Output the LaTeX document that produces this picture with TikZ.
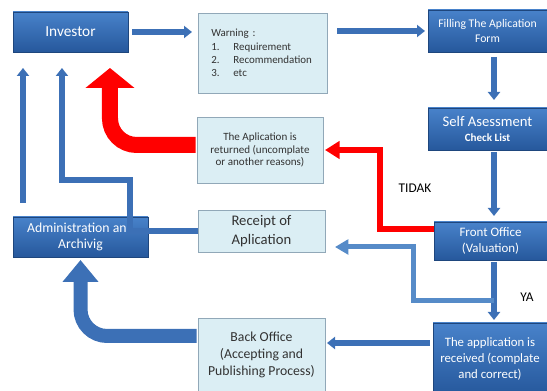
\documentclass[tikz,border=0pt]{standalone}
\usepackage{fontspec}
\setmainfont{Carlito}
\usetikzlibrary{arrows.meta}

\definecolor{boxtop}{RGB}{72,130,202}
\definecolor{boxbot}{RGB}{38,88,156}
\definecolor{paleblue}{RGB}{219,238,244}
\definecolor{paleedge}{RGB}{145,168,184}
\definecolor{arrowblue}{RGB}{60,112,182}
\definecolor{lightarrow}{RGB}{86,139,200}
\definecolor{alertred}{RGB}{255,0,0}
\definecolor{inktext}{RGB}{50,50,50}

\tikzset{
  darkbox/.style={rectangle, top color=boxtop, bottom color=boxbot, draw=boxbot!80!black, line width=0.4pt,
    text=white, align=center, inner sep=1pt, outer sep=0pt, font=\fontsize{8.8}{11}\selectfont},
  palebox/.style={rectangle, fill=paleblue, draw=paleedge, line width=0.5pt,
    text=inktext, align=center, inner sep=1pt, outer sep=0pt, font=\fontsize{8.3}{9.6}\selectfont},
  flow/.style={draw=arrowblue, line width=4pt, -{Triangle[width=9pt,length=6pt]}},
  flowlight/.style={draw=lightarrow, line width=3.75pt, -{Triangle[width=11pt,length=10pt]}},
  redflow/.style={draw=alertred, line width=4pt, -{Triangle[width=13pt,length=11pt]}},
  bigred/.style={draw=alertred, line width=12pt, rounded corners=20pt, -{Triangle[width=36pt,length=15pt]}},
  bigblue/.style={draw=arrowblue, line width=10.5pt, rounded corners=20pt, -{Triangle[width=26pt,length=16.5pt]}},
  answer/.style={text=black, inner sep=0.75pt, font=\fontsize{10}{12}\selectfont}
}

\begin{document}
\begin{tikzpicture}[x=0.75pt,y=0.75pt,yscale=-1,xscale=1]
        \useasboundingbox (0,0) rectangle (547,391);
        \clip (0,0) rectangle (547,391);

        %Shape: Rectangle [investor]
        \node [darkbox, minimum width=86.25pt, minimum height=30pt, font=\fontsize{11.5}{13}\selectfont] (inv) at (70.5,32) {Investor};
        %Shape: Rectangle [warning]
        \node [palebox, minimum width=96.75pt, minimum height=60pt, text width=76.75pt, inner xsep=10pt, align=left,
            font=\fontsize{8.2}{10}\selectfont] (warn) at (262.5,53)
            {Warning :\\ \makebox[16.5pt][l]{1.}Requirement\\ \makebox[16.5pt][l]{2.}Recommendation\\ \makebox[16.5pt][l]{3.}etc};
        %Shape: Rectangle [filling]
        \node [darkbox, minimum width=89.25pt, minimum height=31.5pt] (fill) at (487.5,31) {Filling The Aplication\\ Form};
        %Shape: Rectangle [self assessment]
        \node [darkbox, minimum width=89.25pt, minimum height=31.5pt] (self) at (487.5,129)
            {{\fontsize{11}{12}\selectfont Self Asessment}\\ {\bfseries\fontsize{8.3}{9.5}\selectfont Check List}};
        %Shape: Rectangle [returned]
        \node [palebox, minimum width=94.5pt, minimum height=49.5pt] (ret) at (260,150)
            {The Aplication is\\ returned (uncomplate\\ or another reasons)};
        %Shape: Rectangle [front office]
        \node [darkbox, minimum width=84.75pt, minimum height=28.5pt, font=\fontsize{9.7}{11.5}\selectfont] (front) at (490.5,241) {Front Office\\ (Valuation)};
        %Shape: Rectangle [administration]
        \node [darkbox, minimum width=101.25pt, minimum height=30pt, font=\fontsize{10.3}{12}\selectfont] (adm) at (80.5,237) {Administration and\\ Archivig};
        %Shape: Rectangle [receipt]
        \node [palebox, minimum width=95.25pt, minimum height=31.5pt, font=\fontsize{11}{14}\selectfont] (rec) at (261.5,231)
            {Receipt of\\ Aplication};
        %Shape: Rectangle [back office]
        \node [palebox, minimum width=95.25pt, minimum height=55.5pt, font=\fontsize{10.3}{12.75}\selectfont] (back) at (261.5,355)
            {Back Office\\ (Accepting and\\ Publishing Process)};
        %Shape: Rectangle [received]
        \node [darkbox, minimum width=85.5pt, minimum height=54pt, font=\fontsize{9.6}{12}\selectfont] (recv) at (490,359)
            {The application is\\ received (complate\\ and correct)};

        \coordinate (col) at (494,0);
        \coordinate (ya) at (494,301);
        \coordinate (bend) at (413,247);
        \coordinate (elbow) at (130,180);

        %Straight Lines
        \draw [flow, shorten <=3pt, shorten >=4.5pt] (inv.east) -- (inv.east -| warn.west);
        \draw [flow, shorten <=7.5pt, shorten >=2.25pt] (warn.east |- fill.west) -- (fill.west);
        \draw [flow, shorten <=3.75pt, shorten >=6pt] (col |- fill.south) -- (col |- self.north);
        \draw [flow, shorten <=1.5pt, shorten >=4.5pt] (col |- self.south) -- (col |- front.north);
        \draw [flow, shorten <=1.5pt, shorten >=2.25pt] (col |- front.south) -- (col |- recv.north);
        \draw [flow, shorten <=2.25pt, shorten >=1.5pt] (recv.west |- 0,343) -- (back.east |- 0,343);
        \draw [flowlight, shorten >=7.5pt] (ya) -| (bend) -- (bend -| rec.east);
        %Left column
        \draw [flow, shorten <=10.5pt, shorten >=12pt] ([xshift=7.5pt]adm.north west) -- ([xshift=7.5pt]adm.north west |- inv.south);
        \draw [flow, shorten >=12pt] (rec.west) -| (elbow) -| ([xshift=-6.4pt]inv.south);
        %Red lines
        \draw [redflow, shorten >=1.5pt] ([yshift=-9pt]front.west) -- ++(-54,0) |- (ret.east);
        \draw [bigred, shorten <=1pt, shorten >=12pt] ([yshift=-3.75pt]ret.west) -| ([xshift=29.6pt]inv.south);
        \draw [bigblue, shorten <=1pt, shorten >=2.25pt] ([yshift=-14.25pt]back.west) -| (adm.south);

        % Text Node
        \node [answer] (tidak) at (415,188) {TIDAK};
        % Text Node
        \node [answer] (yes) at (527,297) {YA};

\end{tikzpicture}
\end{document}
